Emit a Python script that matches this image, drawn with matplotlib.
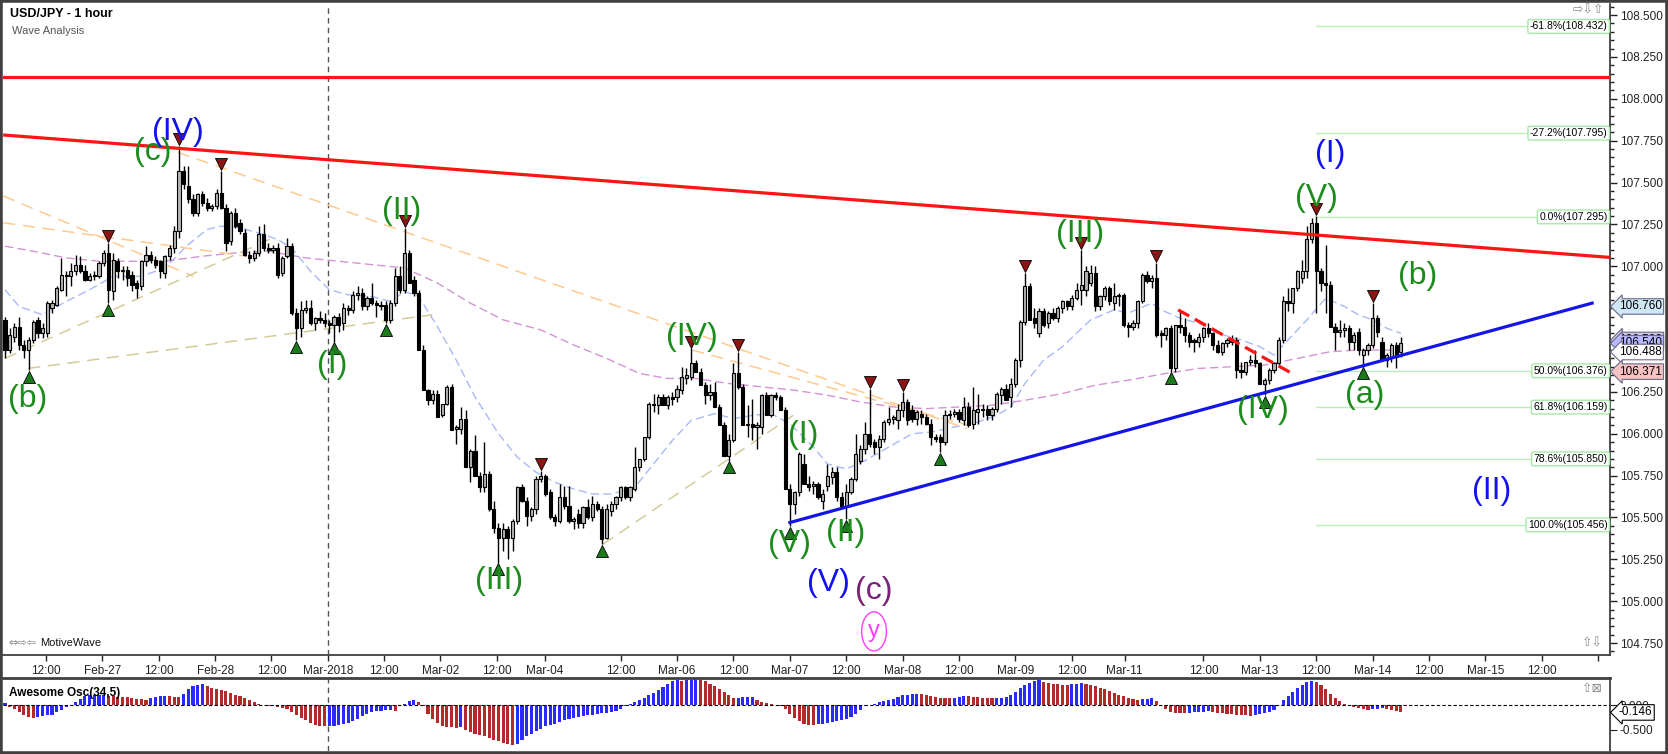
import matplotlib.pyplot as plt
import numpy as np
from matplotlib.patches import Rectangle
from matplotlib.ticker import MultipleLocator, FormatStrFormatter

plt.rcParams['font.family'] = ['Liberation Sans', 'DejaVu Sans']

# hourly bars: open, high, low, close
bars_ohlc = [
    (106.68, 106.70, 106.45, 106.50), (106.50, 106.63, 106.48, 106.59), (106.58, 106.66, 106.55, 106.64),
    (106.64, 106.70, 106.50, 106.53), (106.53, 106.56, 106.45, 106.50), (106.50, 106.58, 106.38, 106.56),
    (106.56, 106.68, 106.54, 106.67), (106.68, 106.70, 106.57, 106.60), (106.60, 106.66, 106.57, 106.63),
    (106.60, 106.79, 106.58, 106.78), (106.75, 106.80, 106.72, 106.78), (106.77, 106.88, 106.76, 106.87),
    (106.86, 107.05, 106.85, 106.95), (106.95, 106.97, 106.82, 106.94), (106.94, 107.02, 106.88, 106.97),
    (106.97, 107.07, 106.95, 107.01), (107.01, 107.06, 106.96, 106.97), (106.97, 107.01, 106.91, 106.92),
    (106.92, 106.96, 106.91, 106.94), (106.94, 106.97, 106.92, 106.95), (106.94, 107.03, 106.93, 107.02),
    (107.02, 107.10, 107.00, 107.08), (107.08, 107.14, 106.78, 106.86), (106.85, 107.08, 106.80, 107.04),
    (107.03, 107.05, 106.93, 106.97), (106.97, 107.00, 106.92, 106.98), (106.98, 107.00, 106.88, 106.93),
    (106.95, 106.97, 106.85, 106.89), (106.90, 106.92, 106.81, 106.87), (106.88, 107.04, 106.86, 107.03),
    (107.03, 107.12, 107.00, 107.07), (107.07, 107.09, 107.02, 107.04), (107.04, 107.06, 106.99, 107.01),
    (107.03, 107.04, 106.93, 106.97), (106.96, 107.07, 106.93, 107.06), (107.06, 107.13, 107.04, 107.11),
    (107.11, 107.24, 107.08, 107.21), (107.21, 107.72, 107.17, 107.57), (107.57, 107.60, 107.46, 107.49),
    (107.48, 107.60, 107.38, 107.40), (107.40, 107.43, 107.30, 107.32), (107.32, 107.44, 107.30, 107.43),
    (107.43, 107.45, 107.36, 107.38), (107.38, 107.41, 107.33, 107.35), (107.35, 107.37, 107.33, 107.36),
    (107.36, 107.46, 107.34, 107.44), (107.44, 107.57, 107.34, 107.35), (107.35, 107.37, 107.09, 107.14),
    (107.15, 107.33, 107.13, 107.32), (107.32, 107.35, 107.23, 107.24), (107.26, 107.28, 107.19, 107.21),
    (107.20, 107.22, 107.06, 107.07), (107.07, 107.09, 107.02, 107.05), (107.05, 107.10, 107.03, 107.08),
    (107.08, 107.24, 107.06, 107.19), (107.19, 107.25, 107.09, 107.11), (107.11, 107.14, 107.08, 107.10),
    (107.10, 107.13, 107.08, 107.11), (107.11, 107.14, 106.93, 106.95), (106.96, 107.06, 106.94, 107.05),
    (107.06, 107.17, 107.05, 107.12), (107.12, 107.14, 106.71, 106.72), (106.72, 106.75, 106.56, 106.63),
    (106.63, 106.79, 106.58, 106.74), (106.74, 106.80, 106.72, 106.75), (106.75, 106.80, 106.65, 106.66),
    (106.66, 106.70, 106.62, 106.69), (106.69, 106.73, 106.66, 106.68), (106.68, 106.72, 106.64, 106.66),
    (106.66, 106.68, 106.60, 106.65), (106.65, 106.71, 106.55, 106.70), (106.70, 106.72, 106.61, 106.65),
    (106.66, 106.78, 106.62, 106.75), (106.75, 106.77, 106.71, 106.74), (106.74, 106.85, 106.72, 106.83),
    (106.83, 106.88, 106.80, 106.84), (106.84, 106.87, 106.74, 106.76), (106.76, 106.82, 106.74, 106.81),
    (106.81, 106.90, 106.77, 106.78), (106.78, 106.80, 106.70, 106.77), (106.77, 106.79, 106.74, 106.76),
    (106.77, 106.79, 106.66, 106.68), (106.68, 106.80, 106.66, 106.78), (106.78, 106.99, 106.76, 106.94),
    (106.94, 107.00, 106.84, 106.86), (106.86, 107.23, 106.84, 107.08), (107.08, 107.10, 106.90, 106.90),
    (106.92, 106.94, 106.82, 106.84), (106.84, 106.86, 106.50, 106.50), (106.50, 106.53, 106.26, 106.26),
    (106.26, 106.27, 106.17, 106.20), (106.20, 106.26, 106.18, 106.24), (106.24, 106.26, 106.10, 106.10),
    (106.11, 106.18, 106.10, 106.18), (106.18, 106.29, 106.17, 106.28), (106.28, 106.30, 106.02, 106.02),
    (106.03, 106.05, 105.94, 106.04), (106.03, 106.16, 106.00, 106.09), (106.09, 106.14, 105.80, 105.80),
    (105.80, 105.91, 105.71, 105.90), (105.90, 105.99, 105.75, 105.75), (105.75, 105.77, 105.65, 105.68),
    (105.68, 105.95, 105.65, 105.76), (105.76, 105.78, 105.54, 105.55), (105.55, 105.60, 105.41, 105.44),
    (105.44, 105.47, 105.23, 105.38), (105.38, 105.47, 105.30, 105.43), (105.43, 105.45, 105.25, 105.38),
    (105.38, 105.49, 105.30, 105.48), (105.48, 105.69, 105.46, 105.68), (105.68, 105.70, 105.59, 105.60),
    (105.60, 105.62, 105.45, 105.51), (105.51, 105.56, 105.48, 105.55), (105.55, 105.75, 105.52, 105.73),
    (105.73, 105.78, 105.71, 105.75), (105.75, 105.76, 105.63, 105.64), (105.65, 105.67, 105.49, 105.50),
    (105.50, 105.52, 105.45, 105.48), (105.48, 105.70, 105.47, 105.62), (105.62, 105.69, 105.55, 105.57),
    (105.57, 105.69, 105.47, 105.48), (105.48, 105.50, 105.43, 105.49), (105.52, 105.55, 105.44, 105.47),
    (105.47, 105.57, 105.44, 105.56), (105.56, 105.61, 105.49, 105.50), (105.50, 105.63, 105.48, 105.58),
    (105.58, 105.60, 105.54, 105.55), (105.55, 105.57, 105.34, 105.37), (105.38, 105.58, 105.37, 105.55),
    (105.54, 105.60, 105.51, 105.58), (105.58, 105.63, 105.55, 105.62), (105.62, 105.69, 105.60, 105.68),
    (105.68, 105.69, 105.61, 105.62), (105.62, 105.69, 105.60, 105.68), (105.67, 105.92, 105.66, 105.80),
    (105.80, 105.85, 105.78, 105.85), (105.85, 105.98, 105.84, 105.98), (105.98, 106.19, 105.97, 106.18),
    (106.18, 106.24, 106.13, 106.17), (106.17, 106.24, 106.12, 106.22), (106.22, 106.24, 106.17, 106.17),
    (106.17, 106.23, 106.15, 106.22), (106.22, 106.25, 106.17, 106.21), (106.22, 106.29, 106.19, 106.27),
    (106.26, 106.40, 106.24, 106.34), (106.33, 106.39, 106.30, 106.35), (106.34, 106.51, 106.32, 106.42),
    (106.42, 106.44, 106.37, 106.37), (106.37, 106.39, 106.29, 106.29), (106.29, 106.31, 106.18, 106.23),
    (106.23, 106.30, 106.20, 106.25), (106.25, 106.31, 106.16, 106.16), (106.16, 106.18, 106.05, 106.05),
    (106.05, 106.07, 105.87, 105.87), (105.87, 106.00, 105.84, 105.96), (105.96, 106.42, 105.95, 106.36),
    (106.36, 106.49, 106.27, 106.28), (106.28, 106.30, 106.05, 106.05), (106.05, 106.17, 105.98, 106.06),
    (106.06, 106.21, 105.96, 106.04), (106.04, 106.07, 105.91, 106.05), (106.04, 106.24, 106.00, 106.23),
    (106.23, 106.25, 106.11, 106.11), (106.11, 106.24, 106.10, 106.23), (106.23, 106.25, 106.20, 106.22),
    (106.22, 106.23, 106.14, 106.14), (106.14, 106.16, 105.67, 105.67), (105.67, 105.70, 105.45, 105.58),
    (105.58, 105.66, 105.52, 105.65), (105.65, 105.89, 105.63, 105.88), (105.82, 105.88, 105.70, 105.70),
    (105.70, 105.75, 105.66, 105.68), (105.69, 105.72, 105.64, 105.70), (105.70, 105.71, 105.61, 105.62),
    (105.60, 105.67, 105.55, 105.64), (105.69, 105.82, 105.66, 105.75), (105.74, 105.80, 105.70, 105.77),
    (105.77, 105.80, 105.60, 105.62), (105.62, 105.65, 105.56, 105.57), (105.57, 105.70, 105.49, 105.65),
    (105.65, 105.74, 105.64, 105.73), (105.73, 106.00, 105.72, 105.88), (105.84, 105.93, 105.82, 105.91),
    (105.91, 106.07, 105.88, 106.00), (106.00, 106.27, 105.92, 105.94), (105.95, 105.97, 105.88, 105.92),
    (105.92, 105.99, 105.85, 105.97), (105.97, 106.08, 105.95, 106.07), (106.07, 106.16, 106.05, 106.09),
    (106.09, 106.11, 106.06, 106.10), (106.08, 106.18, 106.03, 106.14), (106.14, 106.25, 106.10, 106.19),
    (106.19, 106.21, 106.05, 106.08), (106.14, 106.17, 106.07, 106.09), (106.09, 106.14, 106.05, 106.13),
    (106.12, 106.14, 106.06, 106.10), (106.10, 106.12, 106.05, 106.06), (106.06, 106.09, 105.93, 105.98),
    (105.98, 106.00, 105.95, 105.97), (105.98, 106.00, 105.89, 105.95), (105.95, 106.14, 105.93, 106.11),
    (106.11, 106.14, 106.09, 106.12), (106.12, 106.15, 106.10, 106.13), (106.13, 106.15, 106.07, 106.09),
    (106.08, 106.22, 106.05, 106.16), (106.16, 106.19, 106.04, 106.05), (106.06, 106.28, 106.03, 106.14),
    (106.13, 106.24, 106.06, 106.15), (106.14, 106.18, 106.10, 106.15), (106.15, 106.17, 106.08, 106.11),
    (106.11, 106.16, 106.08, 106.15), (106.15, 106.25, 106.13, 106.24), (106.23, 106.28, 106.18, 106.27),
    (106.27, 106.30, 106.20, 106.20), (106.22, 106.33, 106.16, 106.30), (106.30, 106.45, 106.28, 106.44),
    (106.44, 106.68, 106.40, 106.67), (106.67, 106.96, 106.65, 106.88), (106.88, 106.90, 106.68, 106.68),
    (106.69, 106.75, 106.63, 106.66), (106.60, 106.75, 106.58, 106.73), (106.73, 106.75, 106.64, 106.65),
    (106.66, 106.73, 106.63, 106.72), (106.72, 106.75, 106.68, 106.69), (106.69, 106.76, 106.67, 106.75),
    (106.75, 106.80, 106.72, 106.79), (106.79, 106.80, 106.74, 106.76), (106.76, 106.83, 106.74, 106.81),
    (106.81, 106.90, 106.80, 106.86), (106.86, 107.10, 106.77, 106.89), (106.86, 107.00, 106.82, 106.97),
    (106.90, 107.01, 106.88, 106.96), (106.96, 107.00, 106.73, 106.76), (106.76, 106.83, 106.74, 106.82),
    (106.82, 106.88, 106.80, 106.87), (106.87, 106.88, 106.77, 106.79), (106.78, 106.90, 106.74, 106.82),
    (106.82, 106.84, 106.76, 106.83), (106.83, 106.84, 106.64, 106.65), (106.65, 106.67, 106.58, 106.64),
    (106.64, 106.68, 106.62, 106.66), (106.66, 106.80, 106.63, 106.79), (106.79, 106.96, 106.78, 106.95),
    (106.95, 106.97, 106.90, 106.91), (106.91, 106.95, 106.87, 106.93), (106.93, 107.02, 106.58, 106.59),
    (106.60, 106.62, 106.52, 106.59), (106.59, 106.64, 106.56, 106.63), (106.63, 106.65, 106.37, 106.39),
    (106.39, 106.65, 106.37, 106.65), (106.65, 106.73, 106.60, 106.64), (106.64, 106.69, 106.55, 106.59),
    (106.59, 106.61, 106.52, 106.55), (106.56, 106.57, 106.49, 106.55), (106.55, 106.60, 106.52, 106.58),
    (106.58, 106.64, 106.55, 106.63), (106.63, 106.66, 106.58, 106.60), (106.60, 106.61, 106.50, 106.53),
    (106.53, 106.56, 106.48, 106.49), (106.49, 106.55, 106.47, 106.54), (106.54, 106.57, 106.52, 106.56),
    (106.56, 106.59, 106.53, 106.55), (106.56, 106.58, 106.33, 106.38), (106.38, 106.43, 106.33, 106.37),
    (106.37, 106.43, 106.35, 106.43), (106.43, 106.47, 106.41, 106.44), (106.44, 106.50, 106.40, 106.42),
    (106.42, 106.43, 106.30, 106.30), (106.30, 106.33, 106.23, 106.32), (106.32, 106.39, 106.30, 106.38),
    (106.38, 106.43, 106.36, 106.42), (106.42, 106.58, 106.40, 106.56), (106.56, 106.82, 106.54, 106.79),
    (106.79, 106.87, 106.73, 106.78), (106.78, 106.87, 106.72, 106.87), (106.87, 106.98, 106.85, 106.97),
    (106.93, 107.04, 106.90, 106.97), (106.97, 107.24, 106.93, 107.16), (107.16, 107.29, 107.14, 107.26),
    (107.26, 107.30, 106.72, 106.97), (106.97, 106.99, 106.85, 106.90), (106.90, 107.13, 106.72, 106.89),
    (106.89, 106.91, 106.64, 106.64), (106.64, 106.66, 106.50, 106.61), (106.61, 106.68, 106.58, 106.62),
    (106.62, 106.66, 106.58, 106.63), (106.63, 106.65, 106.50, 106.55), (106.55, 106.61, 106.50, 106.59),
    (106.61, 106.63, 106.47, 106.50), (106.47, 106.51, 106.40, 106.50), (106.50, 106.54, 106.47, 106.53),
    (106.53, 106.78, 106.51, 106.69), (106.69, 106.71, 106.58, 106.61), (106.55, 106.58, 106.44, 106.44),
    (106.44, 106.48, 106.40, 106.47), (106.45, 106.54, 106.43, 106.53), (106.53, 106.55, 106.39, 106.46),
    (106.49, 106.58, 106.46, 106.54),
]

# Awesome Oscillator (34,5), one value per bar
ao_vals = [
    0.054, -0.034, -0.068, -0.136, -0.204, -0.238, -0.252, -0.238, -0.218, -0.204,
    -0.190, -0.136, -0.088, -0.034, 0.014, 0.068, 0.136, 0.184, 0.204, 0.211,
    0.214, 0.218, 0.190, 0.184, 0.177, 0.170, 0.163, 0.150, 0.136, 0.122,
    0.116, 0.150, 0.170, 0.184, 0.190, 0.184, 0.177, 0.170, 0.238, 0.327,
    0.395, 0.422, 0.435, 0.395, 0.354, 0.327, 0.320, 0.286, 0.259, 0.218,
    0.190, 0.150, 0.116, 0.068, 0.027, 0.007, -0.014, -0.007, -0.034, -0.054,
    -0.082, -0.136, -0.204, -0.259, -0.306, -0.354, -0.395, -0.422, -0.429, -0.422,
    -0.415, -0.395, -0.374, -0.354, -0.313, -0.272, -0.218, -0.170, -0.136, -0.122,
    -0.109, -0.102, -0.095, -0.109, -0.014, 0.034, 0.082, 0.109, 0.068, -0.014,
    -0.170, -0.286, -0.367, -0.429, -0.442, -0.449, -0.456, -0.442, -0.510, -0.544,
    -0.578, -0.599, -0.626, -0.667, -0.701, -0.735, -0.762, -0.789, -0.816, -0.796,
    -0.714, -0.626, -0.578, -0.531, -0.476, -0.429, -0.408, -0.374, -0.340, -0.306,
    -0.272, -0.259, -0.238, -0.218, -0.204, -0.190, -0.177, -0.163, -0.150, -0.136,
    -0.109, -0.068, -0.014, 0.027, 0.068, 0.109, 0.150, 0.204, 0.259, 0.306,
    0.374, 0.442, 0.490, 0.510, 0.503, 0.517, 0.524, 0.531, 0.517, 0.490,
    0.442, 0.395, 0.340, 0.272, 0.204, 0.150, 0.156, 0.163, 0.170, 0.177,
    0.102, 0.068, 0.041, 0.027, 0.014, -0.007, -0.068, -0.170, -0.259, -0.327,
    -0.374, -0.395, -0.408, -0.388, -0.381, -0.361, -0.340, -0.327, -0.306, -0.272,
    -0.238, -0.170, -0.102, -0.020, 0.014, 0.034, 0.068, 0.095, 0.116, 0.136,
    0.170, 0.204, 0.218, 0.231, 0.238, 0.224, 0.204, 0.184, 0.170, 0.156,
    0.150, 0.143, 0.156, 0.177, 0.190, 0.184, 0.177, 0.170, 0.156, 0.150,
    0.143, 0.150, 0.156, 0.177, 0.211, 0.272, 0.354, 0.422, 0.463, 0.497,
    0.510, 0.476, 0.449, 0.435, 0.429, 0.422, 0.418, 0.435, 0.442, 0.449,
    0.435, 0.415, 0.388, 0.361, 0.327, 0.286, 0.252, 0.218, 0.184, 0.150,
    0.122, 0.102, 0.122, 0.136, 0.143, 0.082, 0.014, -0.068, -0.129, -0.150,
    -0.156, -0.163, -0.150, -0.143, -0.136, -0.129, -0.122, -0.143, -0.156, -0.163,
    -0.170, -0.184, -0.190, -0.197, -0.204, -0.218, -0.204, -0.184, -0.156, -0.129,
    -0.095, 0.014, 0.102, 0.190, 0.272, 0.354, 0.422, 0.469, 0.490, 0.476,
    0.422, 0.340, 0.238, 0.150, 0.082, 0.027, -0.014, -0.034, -0.048, -0.068,
    -0.088, -0.082, -0.068, -0.061, -0.082, -0.095, -0.116, -0.146,
]

# moving averages (read at a few bars)
fast_ma_bar = [0, 3, 8, 13, 18, 23, 29, 34, 39, 43, 46, 50, 55, 58, 61, 65, 69, 73, 78, 82, 85, 88,
               92, 96, 100, 105, 109, 113, 117, 121, 125, 129, 134, 138, 142, 146, 151, 155, 159, 163,
               167, 172, 175, 179, 183, 188, 193, 197, 202, 207, 211, 214, 217, 221, 225, 231, 236, 239,
               244, 246, 250, 254, 258, 263, 267, 270, 273, 277, 281, 285, 288, 291, 294, 297]
fast_ma = [106.86, 106.76, 106.71, 106.79, 106.86, 106.94, 106.94, 106.99, 107.13, 107.22, 107.24,
           107.23, 107.19, 107.16, 107.11, 106.97, 106.86, 106.83, 106.82, 106.79, 106.85, 106.82,
           106.64, 106.44, 106.22, 106.00, 105.86, 105.77, 105.71, 105.67, 105.64, 105.64, 105.68,
           105.82, 105.96, 106.08, 106.12, 106.09, 106.11, 106.12, 106.06, 105.92, 105.82, 105.79,
           105.84, 105.92, 106.00, 106.01, 106.04, 106.07, 106.11, 106.16, 106.30, 106.44, 106.52,
           106.68, 106.74, 106.72, 106.78, 106.74, 106.69, 106.66, 106.60, 106.56, 106.52, 106.47,
           106.56, 106.68, 106.81, 106.76, 106.71, 106.68, 106.63, 106.60]
slow_ma_bar = [0, 6, 13, 20, 27, 34, 42, 49, 56, 64, 71, 78, 85, 92, 99, 106, 114, 121, 128, 135, 141,
               147, 154, 161, 168, 175, 182, 189, 196, 203, 210, 217, 225, 232, 239, 247, 254, 261, 268,
               275, 282, 288, 297]
slow_ma = [107.12, 107.09, 107.05, 107.03, 107.03, 107.03, 107.06, 107.08, 107.09, 107.05, 107.03,
           107.01, 106.99, 106.90, 106.78, 106.68, 106.62, 106.53, 106.45, 106.36, 106.33, 106.33,
           106.30, 106.28, 106.26, 106.23, 106.19, 106.16, 106.15, 106.16, 106.17, 106.20, 106.24,
           106.29, 106.32, 106.36, 106.39, 106.40, 106.41, 106.45, 106.49, 106.50, 106.50]

# swing markers (bar index)
swing_high_bars = [22, 37, 46, 85, 114, 146, 156, 184, 191, 217, 229, 245, 279, 291]
swing_low_bars = [5, 22, 62, 70, 81, 105, 127, 154, 167, 179, 199, 248, 268, 289]

# drawn lines: (bar0, price0, bar1, price1)
red_channel = (-0.4, 107.784, 341.5, 107.053)
red_level = 108.13
blue_channel = (167.0, 105.47, 337.7, 106.78)
red_dash = (249.6, 106.74, 274.5, 106.35)
orange_lines = [(-0.4, 107.42, 40.1, 106.94), (-0.4, 107.26, 51.4, 107.06),
                (36.8, 107.68, 204.7, 106.03), (146.2, 106.50, 205.0, 106.05)]
khaki_lines = [(0.0, 106.45, 57.0, 107.17), (4.9, 106.39, 90.9, 106.71),
               (127.2, 105.34, 167.7, 106.11)]

# fibonacci retracement of the last swing
fib_pct = ['-61.8%', '-27.2%', '0.0%', '50.0%', '61.8%', '78.6%', '100.0%']
fib_val = [108.432, 107.795, 107.295, 106.376, 106.159, 105.850, 105.456]
fib_start_bar = 279

# wave counts: text, bar, price, degree colour
wave_text = ['(b)', '(c)', '(IV)', '(I)', '(II)', '(III)', '(IV)', '(V)', '(I)', '(II)', '(V)', '(c)',
             '(III)', '(IV)', '(V)', '(I)', '(b)', '(a)', '(II)']
wave_bar = [4.9, 31.4, 36.8, 69.6, 84.4, 105.1, 146.1, 166.8, 169.8, 178.9, 175.1, 184.9,
            228.7, 267.7, 279.1, 281.9, 300.6, 289.4, 316.4]
wave_price = [106.21, 107.68, 107.80, 106.41, 107.33, 105.12, 106.58, 105.34, 105.99, 105.41, 105.11,
              105.06, 107.19, 106.14, 107.41, 107.67, 106.94, 106.23, 105.66]
wave_kind = ['g', 'g', 'b', 'g', 'g', 'g', 'g', 'g', 'g', 'g', 'b', 'p', 'g', 'g', 'g', 'b', 'g', 'g', 'b']

# time axis labels at bar positions
tick_bar = [8.7, 20.7, 32.7, 44.7, 56.7, 68.7, 80.7, 92.6, 104.6, 114.8, 131.0, 143.0, 155.0, 167.0,
            179.0, 191.0, 203.0, 215.0, 227.0, 238.2, 255.0, 267.0, 279.0, 291.0, 303.0, 315.0, 327.0, 339.0]
tick_lbl = ['12:00', 'Feb-27', '12:00', 'Feb-28', '12:00', 'Mar-2018', '12:00', 'Mar-02', '12:00', 'Mar-04',
            '12:00', 'Mar-06', '12:00', 'Mar-07', '12:00', 'Mar-08', '12:00', 'Mar-09', '12:00', 'Mar-11',
            '12:00', 'Mar-13', '12:00', 'Mar-14', '12:00', 'Mar-15', '12:00', '']
month_bar = 68.7

# price tags on the right axis
tag_val = [106.760, 106.500, 106.540, 106.488, 106.371]
tag_face = ['#cfe6f5', '#d2c6e6', '#b9b9ff', '#ffffff', '#f6c2c2']

kind_color = {'g': '#1c8c1c', 'b': '#1212f0', 'p': '#7a2178'}
W, H = 1668, 754

fig = plt.figure(figsize=(W / 100, H / 100), dpi=100)
ax = fig.add_axes([3 / W, 1 - 655 / H, 1607 / W, 651 / H])
ao = fig.add_axes([3 / W, 3 / H, 1607 / W, 73 / H])

o, hi, lo, cl = np.array(bars_ohlc).T
x = np.arange(len(o))
xmin, xmax = -0.43, 341.5

# indicators / helper lines first
ax.plot(fast_ma_bar, fast_ma, color='#a9b9f7', lw=1, ls=(0, (6, 3)), zorder=2)
ax.plot(slow_ma_bar, slow_ma, color='#d394d3', lw=1, ls=(0, (6, 3)), zorder=2)
for x0, y0, x1, y1 in orange_lines:
    ax.plot([x0, x1], [y0, y1], color='#ffc98f', lw=1.1, ls=(0, (8, 5)), zorder=2)
for x0, y0, x1, y1 in khaki_lines:
    ax.plot([x0, x1], [y0, y1], color='#d4cb9a', lw=1.1, ls=(0, (8, 5)), zorder=2)
for v in fib_val:
    ax.plot([fib_start_bar, xmax], [v, v], color='#b9f0b9', lw=1, zorder=1)
ax.axvline(month_bar, color='#555555', lw=1, ls=(0, (4, 3)), zorder=1)

# candles
up = cl >= o
ax.vlines(x, lo, hi, color='black', lw=1, zorder=3)
body = np.maximum(np.abs(cl - o), 0.008)
base = np.minimum(o, cl)
ax.bar(x[up], body[up], bottom=base[up], width=0.68, color='#b5b5b5', edgecolor='black', lw=0.8, zorder=4)
ax.bar(x[~up], body[~up], bottom=base[~up], width=0.68, color='black', edgecolor='black', lw=0.8, zorder=4)

# trend lines
ax.plot(red_channel[0::2], red_channel[1::2], color='#ff1414', lw=2.3, zorder=5, solid_capstyle='butt')
ax.axhline(red_level, color='#ff1414', lw=2.3, zorder=5)
ax.plot(blue_channel[0::2], blue_channel[1::2], color='#1414e6', lw=2.3, zorder=5)
ax.plot(red_dash[0::2], red_dash[1::2], color='#ff1414', lw=2.3, ls=(0, (4, 2)), zorder=5)

# swing markers
sh = np.array(swing_high_bars)
sl = np.array(swing_low_bars)
ax.scatter(sh, hi[sh] + 0.04, marker='v', s=75, c='#8b1414', edgecolors='black', linewidths=0.6, zorder=6)
ax.scatter(sl, lo[sl] - 0.04, marker='^', s=75, c='#1c7a1c', edgecolors='black', linewidths=0.6, zorder=6)

# wave labels
for t, b, p, k in zip(wave_text, wave_bar, wave_price, wave_kind):
    ax.text(b, p, t, color=kind_color[k], fontsize=23, ha='center', va='center', zorder=7)
ax.text(184.9, 104.82, 'y', color='#ff3cff', fontsize=17, ha='center', va='center', zorder=7,
        bbox=dict(boxstyle='ellipse,pad=0.12', fc='none', ec='#ff3cff', lw=1))

# fib labels, right-aligned against the price axis
tr = ax.get_yaxis_transform()
for pct, v in zip(fib_pct, fib_val):
    ax.text(0.9985, v, f'{pct}({v:.3f})', transform=tr, fontsize=7.5, ha='right', va='center', zorder=8,
            bbox=dict(boxstyle='round,pad=0.18', fc='white', ec='#a6e9a6', lw=1))

# axes styling (main)
ax.set_xlim(xmin, xmax)
ax.set_ylim(104.679, 108.566)
ax.yaxis.tick_right()
ax.yaxis.set_major_locator(MultipleLocator(0.25))
ax.yaxis.set_minor_locator(MultipleLocator(0.05))
ax.yaxis.set_major_formatter(FormatStrFormatter('%.3f'))
ax.tick_params(axis='y', which='major', length=5, width=1, labelsize=8.5, pad=2, colors='#222222')
ax.tick_params(axis='y', which='minor', length=3, width=1, colors='#222222')
ax.set_xticks(tick_bar)
ax.set_xticklabels(tick_lbl)
ax.tick_params(axis='x', length=4, width=1, labelsize=8.5, pad=3, colors='#222222')
for s in ['top', 'left']:
    ax.spines[s].set_visible(False)
for s in ['right', 'bottom']:
    ax.spines[s].set_color('#404040')
    ax.spines[s].set_linewidth(1.3)

for v, fc in zip(tag_val, tag_face):
    yy = v + 0.06 if abs(v - 106.5) < 1e-6 else v
    ax.text(1.0055, yy, f'{v:.3f}', transform=tr, fontsize=8.5, ha='left', va='center', zorder=9,
            clip_on=False, bbox=dict(boxstyle='larrow,pad=0.15', fc=fc, ec='#6a6a8a', lw=0.8))

# awesome oscillator
ao_arr = np.array(ao_vals)
rising = np.r_[True, ao_arr[1:] >= ao_arr[:-1]]
ao.bar(x, ao_arr, width=0.66, color=np.where(rising, '#2a2aff', '#b22a2a'), zorder=2)
ao.axhline(0, color='black', lw=0.8, ls=(0, (3, 2)), zorder=3)
ao.axvline(month_bar, color='#555555', lw=1, ls=(0, (4, 3)), zorder=1)
ao.set_xlim(xmin, xmax)
ao.set_ylim(-0.933, 0.557)
ao.set_xticks([])
ao.yaxis.tick_right()
ao.set_yticks([0, -0.5])
ao.set_yticklabels(['0.000', '-0.500'])
ao.tick_params(axis='y', length=5, labelsize=8.5, pad=2, colors='#222222')
for s in ['left', 'bottom']:
    ao.spines[s].set_visible(False)
ao.spines['top'].set_color('#404040')
ao.spines['top'].set_linewidth(2)
ao.spines['right'].set_color('#404040')
ao.spines['right'].set_linewidth(1.3)
ao.text(0.004, 0.8, 'Awesome Osc(34,5)', transform=ao.transAxes, fontsize=8.5, weight='bold', va='center')
ao.text(1.0055, -0.146, '-0.146', transform=ao.get_yaxis_transform(), fontsize=8.5, ha='left',
        va='center', clip_on=False, zorder=9,
        bbox=dict(boxstyle='larrow,pad=0.15', fc='white', ec='black', lw=0.8))

# header and window decorations
fig.text(10 / W, 1 - 14 / H, 'USD/JPY - 1 hour', fontsize=9, weight='bold', va='center')
fig.text(12 / W, 1 - 31 / H, 'Wave Analysis', fontsize=8, color='#555555', va='center')
fig.text(8 / W, 1 - 643 / H, '⇔⇨⇦', fontsize=8, color='#8a8a8a', va='center', family='DejaVu Sans')
fig.text(40 / W, 1 - 643 / H, 'MotiveWave', fontsize=8, color='#111111', va='center')
fig.text(1573 / W, 1 - 10 / H, '⇨⇩⇧', fontsize=9, color='#8a8a8a', va='center', family='DejaVu Sans')
fig.text(1582 / W, 1 - 643 / H, '⇧⇩', fontsize=9, color='#8a8a8a', va='center', family='DejaVu Sans')
fig.text(1582 / W, 1 - 689 / H, '⇧⊠', fontsize=9, color='#8a8a8a', va='center', family='DejaVu Sans')
fig.patches.append(Rectangle((0, 0), 1, 1, transform=fig.transFigure, fill=False, ec='#404040', lw=4))

fig.savefig('out.png', dpi=100, facecolor='white')
